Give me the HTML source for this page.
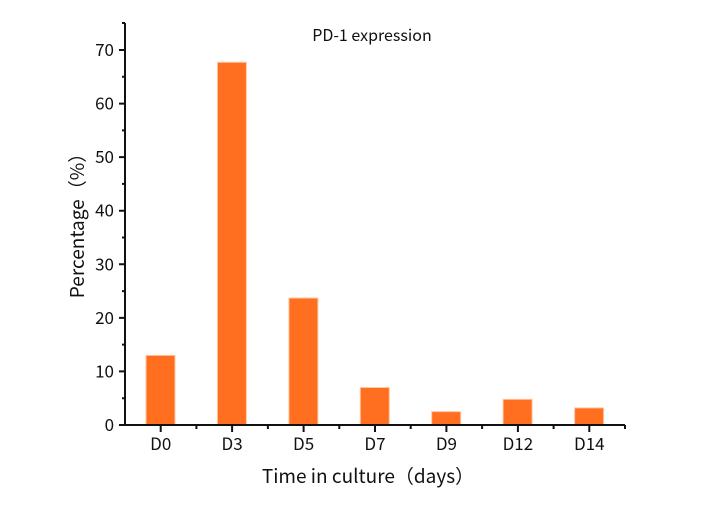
<!DOCTYPE html><html><head><style>body{margin:0;background:#fff}</style></head><body>
<svg width="705" height="506" xmlns="http://www.w3.org/2000/svg" font-family="Noto Sans CJK SC, Liberation Sans, sans-serif">
<rect width="705" height="506" fill="#fff"/>
<g fill="#FF6F1F" stroke="#FFC8A0" stroke-width="1">
<rect x="146" y="355.4" width="29" height="69.6"/>
<rect x="217.4" y="62.3" width="29" height="362.7"/>
<rect x="288.9" y="298" width="29" height="127"/>
<rect x="360.3" y="387.5" width="29" height="37.5"/>
<rect x="431.7" y="411.6" width="29" height="13.4"/>
<rect x="503.1" y="399.3" width="29" height="25.7"/>
<rect x="574.6" y="407.9" width="29" height="17.1"/>
</g>
<g stroke="#111" stroke-width="2" fill="none">
<path d="M125 23V425H625"/>
<path d="M119 425h6M119 371.4h6M119 317.9h6M119 264.3h6M119 210.7h6M119 157.1h6M119 103.6h6M119 50h6"/>
<path d="M122 398.2h3M122 344.6h3M122 291.1h3M122 237.5h3M122 183.9h3M122 130.4h3M122 76.8h3M122 23h3"/>
<path d="M160.7 425v7M232.1 425v7M303.6 425v7M375 425v7M446.4 425v7M517.9 425v7M589.3 425v7"/>
<path d="M196.4 425v4M267.9 425v4M339.3 425v4M410.7 425v4M482.1 425v4M553.6 425v4M625 425v4"/>
</g>
<g font-size="17" fill="#111" text-anchor="end">
<text x="114" y="431">0</text><text x="114" y="377.4">10</text><text x="114" y="323.9">20</text><text x="114" y="270.3">30</text><text x="114" y="216.7">40</text><text x="114" y="163.1">50</text><text x="114" y="109.6">60</text><text x="114" y="56">70</text>
</g>
<g font-size="17" fill="#111" text-anchor="middle">
<text x="160.7" y="450">D0</text><text x="232.1" y="450">D3</text><text x="303.6" y="450">D5</text><text x="375" y="450">D7</text><text x="446.4" y="450">D9</text><text x="517.9" y="450">D12</text><text x="589.3" y="450">D14</text>
</g>
<text x="372" y="41" font-size="16" text-anchor="middle" fill="#111">PD-1 expression</text>
<text x="368" y="483" font-size="19" text-anchor="middle" fill="#111">Time in culture（days）</text>
<text transform="translate(84,221) rotate(-90)" font-size="19" text-anchor="middle" fill="#111">Percentage（%）</text>
</svg></body></html>
